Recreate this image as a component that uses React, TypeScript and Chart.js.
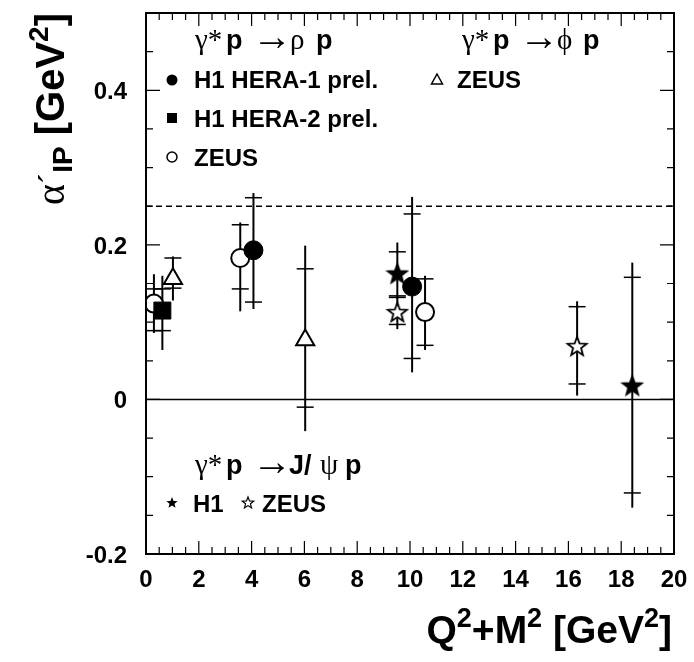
import React, { useEffect, useRef } from "react";
import { Chart, registerables } from "chart.js";

Chart.register(...registerables);

// ---- axes ----
const X_MIN = 0;
const X_MAX = 20;
const Y_MIN = -0.2;
const Y_MAX = 0.5;
const X_TICK_LABELS = [0, 2, 4, 6, 8, 10, 12, 14, 16, 18, 20];
const Y_TICK_LABELS = [-0.2, 0, 0.2, 0.4];
const DASHED_LEVEL = 0.25;

// ---- gamma* p -> rho p : H1 HERA-1 prel. (filled circle) ----
const rhoH1h1X = [4.07, 10.08];
const rhoH1h1Y = [0.193, 0.146];
const rhoH1h1StatLo = [0.126, 0.053];
const rhoH1h1StatHi = [0.261, 0.24];
const rhoH1h1TotLo = [0.117, 0.035];
const rhoH1h1TotHi = [0.267, 0.262];

// ---- gamma* p -> rho p : H1 HERA-2 prel. (filled square) ----
const rhoH1h2X = [0.62];
const rhoH1h2Y = [0.115];
const rhoH1h2StatLo = [0.089];
const rhoH1h2StatHi = [0.143];
const rhoH1h2TotLo = [0.064];
const rhoH1h2TotHi = [0.16];

// ---- gamma* p -> rho p : ZEUS (open circle) ----
const rhoZeusX = [0.3, 3.57, 10.57];
const rhoZeusY = [0.124, 0.183, 0.113];
const rhoZeusStatLo = [0.089, 0.143, 0.07];
const rhoZeusStatHi = [0.143, 0.226, 0.156];
const rhoZeusTotLo = [0.086, 0.114, 0.064];
const rhoZeusTotHi = [0.162, 0.229, 0.16];

// ---- gamma* p -> phi p : ZEUS (open triangle) ----
const phiZeusX = [1.02, 6.03];
const phiZeusY = [0.156, 0.077];
const phiZeusStatLo = [0.144, -0.01];
const phiZeusStatHi = [0.183, 0.169];
const phiZeusTotLo = [0.128, -0.041];
const phiZeusTotHi = [0.185, 0.199];

// ---- gamma* p -> J/psi p : H1 (filled star) ----
const jpsiH1X = [9.52, 18.42];
const jpsiH1Y = [0.163, 0.018];
const jpsiH1StatLo = [0.134, -0.121];
const jpsiH1StatHi = [0.191, 0.158];
const jpsiH1TotLo = [0.13, -0.14];
const jpsiH1TotHi = [0.203, 0.177];

// ---- gamma* p -> J/psi p : ZEUS (open star) ----
const jpsiZeusX = [9.52, 16.33];
const jpsiZeusY = [0.113, 0.069];
const jpsiZeusStatLo = [0.097, 0.02];
const jpsiZeusStatHi = [0.132, 0.12];
const jpsiZeusTotLo = [0.091, 0.005];
const jpsiZeusTotHi = [0.135, 0.127];

type Series = {
  label: string;
  x: number[];
  y: number[];
  sLo: number[];
  sHi: number[];
  tLo: number[];
  tHi: number[];
};

const SERIES: Series[] = [
  { label: "H1 HERA-1 prel.", x: rhoH1h1X, y: rhoH1h1Y, sLo: rhoH1h1StatLo, sHi: rhoH1h1StatHi, tLo: rhoH1h1TotLo, tHi: rhoH1h1TotHi },
  { label: "H1 HERA-2 prel.", x: rhoH1h2X, y: rhoH1h2Y, sLo: rhoH1h2StatLo, sHi: rhoH1h2StatHi, tLo: rhoH1h2TotLo, tHi: rhoH1h2TotHi },
  { label: "ZEUS rho", x: rhoZeusX, y: rhoZeusY, sLo: rhoZeusStatLo, sHi: rhoZeusStatHi, tLo: rhoZeusTotLo, tHi: rhoZeusTotHi },
  { label: "ZEUS phi", x: phiZeusX, y: phiZeusY, sLo: phiZeusStatLo, sHi: phiZeusStatHi, tLo: phiZeusTotLo, tHi: phiZeusTotHi },
  { label: "H1 J/psi", x: jpsiH1X, y: jpsiH1Y, sLo: jpsiH1StatLo, sHi: jpsiH1StatHi, tLo: jpsiH1TotLo, tHi: jpsiH1TotHi },
  { label: "ZEUS J/psi", x: jpsiZeusX, y: jpsiZeusY, sLo: jpsiZeusStatLo, sHi: jpsiZeusStatHi, tLo: jpsiZeusTotLo, tHi: jpsiZeusTotHi },
];

const SANS = '"Liberation Sans", Arial, Helvetica, sans-serif';
const SERIF = '"Liberation Serif", "Times New Roman", serif';

function starPath(ctx: CanvasRenderingContext2D, cx: number, cy: number, R: number, r: number) {
  ctx.beginPath();
  for (let i = 0; i < 10; i++) {
    const rad = i % 2 === 0 ? R : r;
    const ang = -Math.PI / 2 + (i * Math.PI) / 5;
    const px = cx + rad * Math.cos(ang);
    const py = cy + rad * Math.sin(ang);
    if (i === 0) ctx.moveTo(px, py);
    else ctx.lineTo(px, py);
  }
  ctx.closePath();
}

function makeStar(filled: boolean, R: number): HTMLCanvasElement {
  const size = Math.ceil(2 * R + 4);
  const c = document.createElement("canvas");
  c.width = size;
  c.height = size;
  const g = c.getContext("2d")!;
  starPath(g, size / 2, size / 2 + 0.8, R, R * 0.42);
  g.fillStyle = filled ? "#000" : "#fff";
  g.fill();
  g.lineWidth = 1.8;
  g.strokeStyle = "#000";
  g.stroke();
  return c;
}

type Seg = { t: string; font: string; dy?: number };

function segsWidth(ctx: CanvasRenderingContext2D, segs: Seg[]) {
  let w = 0;
  for (const s of segs) {
    ctx.font = s.font;
    w += ctx.measureText(s.t).width;
  }
  return w;
}

function drawSegs(ctx: CanvasRenderingContext2D, segs: Seg[], x: number, y: number) {
  let cx = x;
  for (const s of segs) {
    ctx.font = s.font;
    ctx.fillText(s.t, cx, y + (s.dy || 0));
    cx += ctx.measureText(s.t).width;
  }
}

// pieces placed at given x offsets (process labels)
type Piece = { t: string; font: string; dx: number; dy?: number };
function drawPieces(ctx: CanvasRenderingContext2D, pieces: Piece[], x0: number, y: number) {
  for (const p of pieces) {
    ctx.font = p.font;
    ctx.fillText(p.t, x0 + p.dx, y + (p.dy || 0));
  }
}

const H = `bold 27px ${SANS}`;
const HS = `29px ${SERIF}`;
const HA = `40px ${SERIF}`;

const rootPlugin = {
  id: "rootStyle",
  beforeDatasetsDraw(chart: any) {
    const { ctx, chartArea: a, scales } = chart;
    const xs = scales.x;
    const ys = scales.y;
    ctx.save();
    ctx.strokeStyle = "#000";
    ctx.lineWidth = 1.5;
    ctx.setLineDash([6, 4]);
    const yd = ys.getPixelForValue(DASHED_LEVEL);
    ctx.beginPath();
    ctx.moveTo(a.left, yd);
    ctx.lineTo(a.right, yd);
    ctx.stroke();
    ctx.setLineDash([]);
    const y0 = ys.getPixelForValue(0);
    ctx.lineWidth = 1.6;
    ctx.beginPath();
    ctx.moveTo(a.left, y0);
    ctx.lineTo(a.right, y0);
    ctx.stroke();
    for (const s of SERIES) {
      for (let i = 0; i < s.x.length; i++) {
        const px = xs.getPixelForValue(s.x[i]);
        ctx.lineWidth = 2;
        ctx.beginPath();
        ctx.moveTo(px, ys.getPixelForValue(s.tLo[i]));
        ctx.lineTo(px, ys.getPixelForValue(s.tHi[i]));
        ctx.stroke();
        ctx.lineWidth = 1.5;
        for (const v of [s.sLo[i], s.sHi[i]]) {
          const py = ys.getPixelForValue(v);
          ctx.beginPath();
          ctx.moveTo(px - 8.5, py);
          ctx.lineTo(px + 8.5, py);
          ctx.stroke();
        }
      }
    }
    ctx.restore();
  },
  afterDraw(chart: any) {
    const { ctx, chartArea: a, scales } = chart;
    const xs = scales.x;
    const ys = scales.y;
    ctx.save();
    ctx.strokeStyle = "#000";
    ctx.fillStyle = "#000";
    ctx.lineWidth = 1.2;
    for (let i = 0; i <= 40; i++) {
      const v = i * 0.5;
      const px = xs.getPixelForValue(v);
      const len = i % 4 === 0 ? 13 : 7;
      ctx.beginPath();
      ctx.moveTo(px, a.bottom);
      ctx.lineTo(px, a.bottom - len);
      ctx.moveTo(px, a.top);
      ctx.lineTo(px, a.top + len);
      ctx.stroke();
    }
    for (let i = -4; i <= 10; i++) {
      const v = i * 0.05;
      const py = ys.getPixelForValue(v);
      const len = i % 4 === 0 ? 14 : 7;
      ctx.beginPath();
      ctx.moveTo(a.left, py);
      ctx.lineTo(a.left + len, py);
      ctx.moveTo(a.right, py);
      ctx.lineTo(a.right - len, py);
      ctx.stroke();
    }
    ctx.lineWidth = 2;
    ctx.strokeRect(a.left, a.top, a.right - a.left, a.bottom - a.top);

    // tick labels
    ctx.font = `bold 24px ${SANS}`;
    ctx.textAlign = "center";
    ctx.textBaseline = "alphabetic";
    for (const v of X_TICK_LABELS) {
      ctx.fillText(String(v), xs.getPixelForValue(v), a.bottom + 33);
    }
    ctx.textAlign = "right";
    for (const v of Y_TICK_LABELS) {
      ctx.fillText(v === 0 ? "0" : v.toFixed(1), a.left - 19, ys.getPixelForValue(v) + 9);
    }

    ctx.textAlign = "left";
    // x title
    const B39 = `bold 39px ${SANS}`;
    const B27 = `bold 27px ${SANS}`;
    const xt: Seg[] = [
      { t: "Q", font: B39 },
      { t: "2", font: B27, dy: -16 },
      { t: "+M", font: B39 },
      { t: "2", font: B27, dy: -16 },
      { t: " [GeV", font: B39 },
      { t: "2", font: B27, dy: -16 },
      { t: "]", font: B39 },
    ];
    const xw = segsWidth(ctx, xt);
    drawSegs(ctx, xt, a.right - 2 - xw, 643);

    // y title (rotated)
    const B40 = `bold 40px ${SANS}`;
    const B28 = `bold 28px ${SANS}`;
    const yt: Seg[] = [
      { t: "\u03B1", font: `40px ${SERIF}` },
      { t: "\u00B4", font: `34px ${SERIF}`, dy: -2 },
      { t: "IP", font: B28, dy: 8 },
      { t: " [GeV", font: B40 },
      { t: "2", font: B28, dy: -16 },
      { t: "]", font: B40 },
    ];
    const yw = segsWidth(ctx, yt);
    ctx.save();
    ctx.translate(64, a.top + yw);
    ctx.rotate(-Math.PI / 2);
    drawSegs(ctx, yt, 0, 0);
    ctx.restore();

    // process headers
    const rhoHead: Piece[] = [
      { t: "\u03B3*", font: HS, dx: 0 },
      { t: "p", font: H, dx: 31 },
      { t: "\u2192", font: HA, dx: 57, dy: 1 },
      { t: "\u03C1", font: HS, dx: 95 },
      { t: "p", font: H, dx: 121 },
    ];
    drawPieces(ctx, rhoHead, 195, 49);
    const phiHead: Piece[] = [
      { t: "\u03B3*", font: HS, dx: 0 },
      { t: "p", font: H, dx: 31 },
      { t: "\u2192", font: HA, dx: 57, dy: 1 },
      { t: "\u03D5", font: HS, dx: 95 },
      { t: "p", font: H, dx: 121 },
    ];
    drawPieces(ctx, phiHead, 462, 49);
    const jpsiHead: Piece[] = [
      { t: "\u03B3*", font: HS, dx: 0 },
      { t: "p", font: H, dx: 31 },
      { t: "\u2192", font: HA, dx: 57, dy: 1 },
      { t: "J/", font: H, dx: 94 },
      { t: "\u03C8", font: HS, dx: 125 },
      { t: "p", font: H, dx: 150 },
    ];
    drawPieces(ctx, jpsiHead, 195, 474);

    // legend entries
    ctx.font = `bold 24px ${SANS}`;
    ctx.fillText("H1 HERA-1 prel.", 194, 88);
    ctx.fillText("H1 HERA-2 prel.", 194, 127);
    ctx.fillText("ZEUS", 194, 166);
    ctx.fillText("ZEUS", 457, 88);
    ctx.fillText("H1", 193, 512);
    ctx.fillText("ZEUS", 262, 512);

    // legend markers
    ctx.lineWidth = 1.5;
    ctx.beginPath();
    ctx.arc(172, 80, 5.5, 0, Math.PI * 2);
    ctx.fill();
    ctx.fillRect(167, 113, 10, 10);
    ctx.beginPath();
    ctx.arc(172, 157, 5, 0, Math.PI * 2);
    ctx.stroke();
    ctx.beginPath();
    ctx.moveTo(437, 74);
    ctx.lineTo(442.5, 84);
    ctx.lineTo(431.5, 84);
    ctx.closePath();
    ctx.stroke();
    ctx.lineWidth = 1.2;
    starPath(ctx, 172, 503, 6, 2.6);
    ctx.fill();
    starPath(ctx, 248, 503, 6, 2.6);
    ctx.stroke();

    ctx.restore();
  },
};

function toPts(x: number[], y: number[]) {
  return x.map((v, i) => ({ x: v, y: y[i] }));
}

export default function App() {
  const ref = useRef<HTMLCanvasElement | null>(null);
  useEffect(() => {
    if (!ref.current) return;
    const starFilled = makeStar(true, 10);
    const starOpen = makeStar(false, 10);
    const chart = new Chart(ref.current, {
      type: "scatter",
      data: {
        datasets: [
          {
            label: "H1 HERA-1 prel.",
            data: toPts(rhoH1h1X, rhoH1h1Y),
            pointStyle: "circle",
            pointRadius: 9.5,
            backgroundColor: "#000",
            borderColor: "#000",
            borderWidth: 1,
          },
          {
            label: "H1 HERA-2 prel.",
            data: toPts(rhoH1h2X, rhoH1h2Y),
            pointStyle: "rect",
            pointRadius: 12,
            backgroundColor: "#000",
            borderColor: "#000",
            borderWidth: 1,
          },
          {
            label: "ZEUS (rho)",
            data: toPts(rhoZeusX, rhoZeusY),
            pointStyle: "circle",
            pointRadius: 9,
            backgroundColor: "#fff",
            borderColor: "#000",
            borderWidth: 2,
          },
          {
            label: "ZEUS (phi)",
            data: toPts(phiZeusX, phiZeusY),
            pointStyle: "triangle",
            pointRadius: 10.5,
            backgroundColor: "#fff",
            borderColor: "#000",
            borderWidth: 2,
          },
          {
            label: "H1 (J/psi)",
            data: toPts(jpsiH1X, jpsiH1Y),
            pointStyle: starFilled as any,
            pointRadius: 10,
            backgroundColor: "#000",
            borderColor: "#000",
          },
          {
            label: "ZEUS (J/psi)",
            data: toPts(jpsiZeusX, jpsiZeusY),
            pointStyle: starOpen as any,
            pointRadius: 10,
            backgroundColor: "#fff",
            borderColor: "#000",
          },
        ],
      },
      options: {
        animation: false,
        responsive: false,
        maintainAspectRatio: false,
        events: [],
        layout: { padding: { left: 146, right: 20, top: 8, bottom: 108 } },
        scales: {
          x: { type: "linear", min: X_MIN, max: X_MAX, display: false },
          y: { type: "linear", min: Y_MIN, max: Y_MAX, display: false },
        },
        plugins: {
          legend: { display: false },
          tooltip: { enabled: false },
          title: { display: false },
        },
      },
      plugins: [rootPlugin],
    });
    return () => chart.destroy();
  }, []);
  return (
    <div style={{ position: "fixed", left: 0, top: 0, width: 694, height: 662, background: "#fff" }}>
      <canvas ref={ref} width={694} height={662} style={{ display: "block", width: 694, height: 662 }} />
    </div>
  );
}
